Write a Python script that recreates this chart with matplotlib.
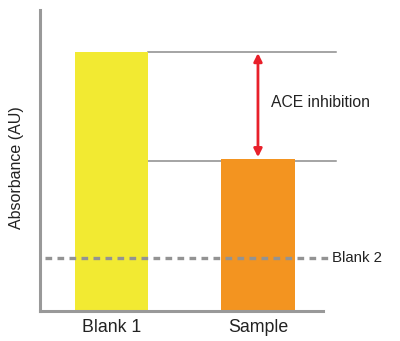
import matplotlib
matplotlib.use("Agg")
import matplotlib.pyplot as plt

plt.rcParams['font.family'] = ['Liberation Sans', 'DejaVu Sans']

# Absorbance readings (arbitrary units)
categories = ["Blank 1", "Sample"]
absorbance = [0.86, 0.505]
blank2 = 0.175
bar_colors = ["#F2EA32", "#F39420"]

fig = plt.figure(figsize=(4.0, 3.41), dpi=100)
ax = fig.add_axes([0.1, 0.088, 0.7075, 0.8826])

x = [0, 1]
ax.bar(x, absorbance, width=0.5, color=bar_colors, zorder=2)

ax.set_xlim(-0.488, 1.444)
ax.set_ylim(0, 1.0)

line_grey = "#8C8C8C"
# reference levels from the bar tops
ax.plot([0.25, 1.53], [absorbance[0]] * 2, color=line_grey, lw=1.1,
        clip_on=False, zorder=1)
ax.plot([0.25, 1.53], [absorbance[1] - 0.006] * 2, color=line_grey, lw=1.1,
        clip_on=False, zorder=1)

# Blank 2 baseline
ax.plot([-0.455, 1.5], [blank2] * 2, color="#939393", lw=2.4,
        ls=(0, (2.0, 1.6)), clip_on=False, zorder=3)
ax.text(1.505, blank2, "Blank 2", fontsize=10.8, va="center", ha="left",
        color="#222222")

# inhibition arrow between the two levels
ax.annotate("", xy=(1.0, absorbance[0] - 0.003), xytext=(1.0, absorbance[1] + 0.006),
            arrowprops=dict(arrowstyle="<|-|>", color="#E8202A", lw=2.0,
                            mutation_scale=12, shrinkA=0, shrinkB=0))
ax.text(1.09, (absorbance[0] + absorbance[1]) / 2 + 0.01, "ACE inhibition",
        fontsize=11.3, va="center", ha="left", color="#222222")

for side in ("top", "right"):
    ax.spines[side].set_visible(False)
for side in ("left", "bottom"):
    ax.spines[side].set_color("#999999")
    ax.spines[side].set_linewidth(2.2)
    ax.spines[side].set_zorder(4)

ax.set_xticks(x)
ax.set_xticklabels(categories, fontsize=12.8, color="#222222")
ax.tick_params(axis="x", length=0, pad=6)
ax.set_yticks([])
ax.set_ylabel("Absorbance (AU)", fontsize=11.5, color="#222222")
ax.yaxis.set_label_coords(-0.057, 0.477)

fig.savefig("out.png", dpi=100)
